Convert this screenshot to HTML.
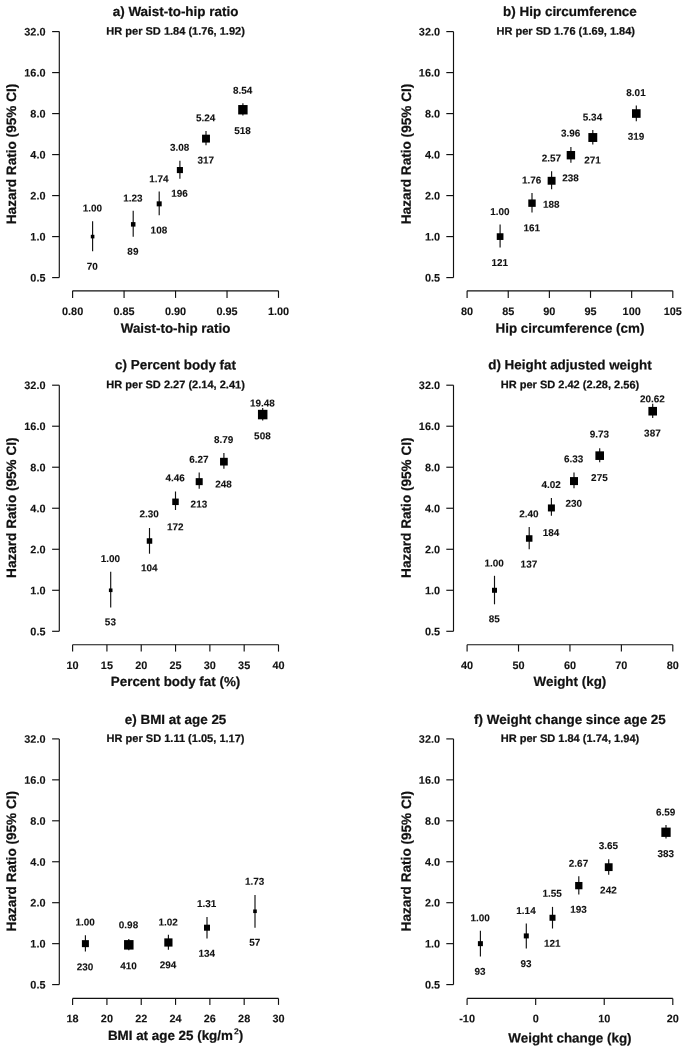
<!DOCTYPE html>
<html><head><meta charset="utf-8"><title>Hazard ratios</title>
<style>
html,body{margin:0;padding:0;background:#fff;}
body{width:685px;height:1049px;overflow:hidden;}
svg{display:block;will-change:transform;opacity:0.999;font-family:"Liberation Sans",sans-serif;font-weight:bold;fill:#111;}
svg text{text-rendering:geometricPrecision;stroke:#111;stroke-width:0.22px;stroke-linejoin:round;}
svg text.s{stroke-width:0.1px;}
svg path{stroke:#111;stroke-width:1.15;fill:none;}
svg rect{fill:#000;stroke:none;}
</style></head><body>
<svg width="685" height="1049" viewBox="0 0 685 1049">
<rect x="0" y="0" width="685" height="1049" style="fill:#fff"/>
<text transform="translate(175.55 16.02) rotate(0.03)" font-size="13.45" text-anchor="middle">a) Waist-to-hip ratio</text>
<text transform="translate(175.55 34.75) rotate(0.03)" font-size="11.04" text-anchor="middle">HR per SD 1.84 (1.76, 1.92)</text>
<path d="M59.30 31.60V277.60" />
<path d="M52.10 31.60H59.30" />
<text transform="translate(45.50 35.50) rotate(0.03)" font-size="10.9" text-anchor="end" class="s">32.0</text>
<path d="M52.10 72.60H59.30" />
<text transform="translate(45.50 76.50) rotate(0.03)" font-size="10.9" text-anchor="end" class="s">16.0</text>
<path d="M52.10 113.60H59.30" />
<text transform="translate(45.50 117.50) rotate(0.03)" font-size="10.9" text-anchor="end" class="s">8.0</text>
<path d="M52.10 154.60H59.30" />
<text transform="translate(45.50 158.50) rotate(0.03)" font-size="10.9" text-anchor="end" class="s">4.0</text>
<path d="M52.10 195.60H59.30" />
<text transform="translate(45.50 199.50) rotate(0.03)" font-size="10.9" text-anchor="end" class="s">2.0</text>
<path d="M52.10 236.60H59.30" />
<text transform="translate(45.50 240.50) rotate(0.03)" font-size="10.9" text-anchor="end" class="s">1.0</text>
<path d="M52.10 277.60H59.30" />
<text transform="translate(45.50 281.50) rotate(0.03)" font-size="10.9" text-anchor="end" class="s">0.5</text>
<text transform="translate(15.97 154.00) rotate(-89.97)" font-size="13.6" text-anchor="middle">Hazard Ratio (95% CI)</text>
<path d="M72.60 290.80H278.50" />
<path d="M72.60 290.80V297.90" />
<text transform="translate(72.60 315.10) rotate(0.03)" font-size="10.9" text-anchor="middle" class="s">0.80</text>
<path d="M124.07 290.80V297.90" />
<text transform="translate(124.07 315.10) rotate(0.03)" font-size="10.9" text-anchor="middle" class="s">0.85</text>
<path d="M175.55 290.80V297.90" />
<text transform="translate(175.55 315.10) rotate(0.03)" font-size="10.9" text-anchor="middle" class="s">0.90</text>
<path d="M227.03 290.80V297.90" />
<text transform="translate(227.03 315.10) rotate(0.03)" font-size="10.9" text-anchor="middle" class="s">0.95</text>
<path d="M278.50 290.80V297.90" />
<text transform="translate(278.50 315.10) rotate(0.03)" font-size="10.9" text-anchor="middle" class="s">1.00</text>
<text transform="translate(175.55 332.80) rotate(0.03)" font-size="13.4" text-anchor="middle">Waist-to-hip ratio</text>
<path d="M92.60 221.30V251.30" stroke-width="1.25"/>
<rect x="90.80" y="234.80" width="3.60" height="3.60" />
<text transform="translate(92.30 211.56) rotate(0.03)" font-size="9.95" text-anchor="middle" class="s">1.00</text>
<text transform="translate(92.30 269.86) rotate(0.03)" font-size="9.95" text-anchor="middle" class="s">70</text>
<path d="M133.20 210.80V236.80" stroke-width="1.25"/>
<rect x="130.95" y="222.11" width="4.50" height="4.50" />
<text transform="translate(132.90 201.46) rotate(0.03)" font-size="9.95" text-anchor="middle" class="s">1.23</text>
<text transform="translate(132.90 254.86) rotate(0.03)" font-size="9.95" text-anchor="middle" class="s">89</text>
<path d="M159.20 191.40V215.30" stroke-width="1.25"/>
<rect x="156.70" y="201.34" width="5.00" height="5.00" />
<text transform="translate(158.90 182.16) rotate(0.03)" font-size="9.95" text-anchor="middle" class="s">1.74</text>
<text transform="translate(158.90 233.56) rotate(0.03)" font-size="9.95" text-anchor="middle" class="s">108</text>
<path d="M179.90 160.70V178.70" stroke-width="1.25"/>
<rect x="176.85" y="167.01" width="6.10" height="6.10" />
<text transform="translate(179.60 150.86) rotate(0.03)" font-size="9.95" text-anchor="middle" class="s">3.08</text>
<text transform="translate(179.60 196.76) rotate(0.03)" font-size="9.95" text-anchor="middle" class="s">196</text>
<path d="M206.00 131.00V145.20" stroke-width="1.25"/>
<rect x="202.05" y="134.68" width="7.90" height="7.90" />
<text transform="translate(205.70 121.36) rotate(0.03)" font-size="9.95" text-anchor="middle" class="s">5.24</text>
<text transform="translate(205.70 163.56) rotate(0.03)" font-size="9.95" text-anchor="middle" class="s">317</text>
<path d="M242.90 103.20V115.50" stroke-width="1.25"/>
<rect x="238.20" y="105.04" width="9.40" height="9.40" />
<text transform="translate(242.60 93.66) rotate(0.03)" font-size="9.95" text-anchor="middle" class="s">8.54</text>
<text transform="translate(242.60 133.96) rotate(0.03)" font-size="9.95" text-anchor="middle" class="s">518</text>
<text transform="translate(569.95 16.02) rotate(0.03)" font-size="13.45" text-anchor="middle">b) Hip circumference</text>
<text transform="translate(565.75 34.75) rotate(0.03)" font-size="11.04" text-anchor="middle">HR per SD 1.76 (1.69, 1.84)</text>
<path d="M453.50 31.60V277.60" />
<path d="M446.30 31.60H453.50" />
<text transform="translate(440.05 35.50) rotate(0.03)" font-size="10.9" text-anchor="end" class="s">32.0</text>
<path d="M446.30 72.60H453.50" />
<text transform="translate(440.05 76.50) rotate(0.03)" font-size="10.9" text-anchor="end" class="s">16.0</text>
<path d="M446.30 113.60H453.50" />
<text transform="translate(440.05 117.50) rotate(0.03)" font-size="10.9" text-anchor="end" class="s">8.0</text>
<path d="M446.30 154.60H453.50" />
<text transform="translate(440.05 158.50) rotate(0.03)" font-size="10.9" text-anchor="end" class="s">4.0</text>
<path d="M446.30 195.60H453.50" />
<text transform="translate(440.05 199.50) rotate(0.03)" font-size="10.9" text-anchor="end" class="s">2.0</text>
<path d="M446.30 236.60H453.50" />
<text transform="translate(440.05 240.50) rotate(0.03)" font-size="10.9" text-anchor="end" class="s">1.0</text>
<path d="M446.30 277.60H453.50" />
<text transform="translate(440.05 281.50) rotate(0.03)" font-size="10.9" text-anchor="end" class="s">0.5</text>
<text transform="translate(410.87 154.00) rotate(-89.97)" font-size="13.6" text-anchor="middle">Hazard Ratio (95% CI)</text>
<path d="M467.10 290.80H672.80" />
<path d="M467.10 290.80V297.90" />
<text transform="translate(467.10 315.10) rotate(0.03)" font-size="10.9" text-anchor="middle" class="s">80</text>
<path d="M508.24 290.80V297.90" />
<text transform="translate(508.24 315.10) rotate(0.03)" font-size="10.9" text-anchor="middle" class="s">85</text>
<path d="M549.38 290.80V297.90" />
<text transform="translate(549.38 315.10) rotate(0.03)" font-size="10.9" text-anchor="middle" class="s">90</text>
<path d="M590.52 290.80V297.90" />
<text transform="translate(590.52 315.10) rotate(0.03)" font-size="10.9" text-anchor="middle" class="s">95</text>
<path d="M631.66 290.80V297.90" />
<text transform="translate(631.66 315.10) rotate(0.03)" font-size="10.9" text-anchor="middle" class="s">100</text>
<path d="M672.80 290.80V297.90" />
<text transform="translate(672.80 315.10) rotate(0.03)" font-size="10.9" text-anchor="middle" class="s">105</text>
<text transform="translate(569.95 332.70) rotate(0.03)" font-size="13.4" text-anchor="middle">Hip circumference (cm)</text>
<path d="M500.10 224.50V247.60" stroke-width="1.25"/>
<rect x="496.75" y="233.25" width="6.70" height="6.70" />
<text transform="translate(499.80 215.06) rotate(0.03)" font-size="9.95" text-anchor="middle" class="s">1.00</text>
<text transform="translate(499.80 265.96) rotate(0.03)" font-size="9.95" text-anchor="middle" class="s">121</text>
<path d="M532.00 193.00V212.60" stroke-width="1.25"/>
<rect x="528.30" y="199.46" width="7.40" height="7.40" />
<text transform="translate(531.70 183.46) rotate(0.03)" font-size="9.95" text-anchor="middle" class="s">1.76</text>
<text transform="translate(531.70 231.16) rotate(0.03)" font-size="9.95" text-anchor="middle" class="s">161</text>
<path d="M551.60 171.20V189.30" stroke-width="1.25"/>
<rect x="547.65" y="176.82" width="7.90" height="7.90" />
<text transform="translate(551.30 161.56) rotate(0.03)" font-size="9.95" text-anchor="middle" class="s">2.57</text>
<text transform="translate(551.30 207.86) rotate(0.03)" font-size="9.95" text-anchor="middle" class="s">188</text>
<path d="M570.90 147.00V162.80" stroke-width="1.25"/>
<rect x="566.70" y="150.99" width="8.40" height="8.40" />
<text transform="translate(570.60 136.56) rotate(0.03)" font-size="9.95" text-anchor="middle" class="s">3.96</text>
<text transform="translate(570.60 181.16) rotate(0.03)" font-size="9.95" text-anchor="middle" class="s">238</text>
<path d="M592.80 130.00V144.40" stroke-width="1.25"/>
<rect x="588.35" y="133.06" width="8.90" height="8.90" />
<text transform="translate(592.50 120.46) rotate(0.03)" font-size="9.95" text-anchor="middle" class="s">5.34</text>
<text transform="translate(592.50 163.46) rotate(0.03)" font-size="9.95" text-anchor="middle" class="s">271</text>
<path d="M636.30 105.50V121.20" stroke-width="1.25"/>
<rect x="632.00" y="109.23" width="8.60" height="8.60" />
<text transform="translate(636.00 95.96) rotate(0.03)" font-size="9.95" text-anchor="middle" class="s">8.01</text>
<text transform="translate(636.00 139.66) rotate(0.03)" font-size="9.95" text-anchor="middle" class="s">319</text>
<text transform="translate(175.55 369.37) rotate(0.03)" font-size="13.45" text-anchor="middle">c) Percent body fat</text>
<text transform="translate(175.55 388.35) rotate(0.03)" font-size="11.04" text-anchor="middle">HR per SD 2.27 (2.14, 2.41)</text>
<path d="M59.30 385.20V631.30" />
<path d="M52.10 385.20H59.30" />
<text transform="translate(45.50 389.10) rotate(0.03)" font-size="10.9" text-anchor="end" class="s">32.0</text>
<path d="M52.10 426.22H59.30" />
<text transform="translate(45.50 430.12) rotate(0.03)" font-size="10.9" text-anchor="end" class="s">16.0</text>
<path d="M52.10 467.23H59.30" />
<text transform="translate(45.50 471.14) rotate(0.03)" font-size="10.9" text-anchor="end" class="s">8.0</text>
<path d="M52.10 508.25H59.30" />
<text transform="translate(45.50 512.15) rotate(0.03)" font-size="10.9" text-anchor="end" class="s">4.0</text>
<path d="M52.10 549.27H59.30" />
<text transform="translate(45.50 553.17) rotate(0.03)" font-size="10.9" text-anchor="end" class="s">2.0</text>
<path d="M52.10 590.28H59.30" />
<text transform="translate(45.50 594.19) rotate(0.03)" font-size="10.9" text-anchor="end" class="s">1.0</text>
<path d="M52.10 631.30H59.30" />
<text transform="translate(45.50 635.20) rotate(0.03)" font-size="10.9" text-anchor="end" class="s">0.5</text>
<text transform="translate(15.97 507.65) rotate(-89.97)" font-size="13.6" text-anchor="middle">Hazard Ratio (95% CI)</text>
<path d="M72.60 644.70H278.50" />
<path d="M72.60 644.70V651.60" />
<text transform="translate(72.60 669.00) rotate(0.03)" font-size="10.9" text-anchor="middle" class="s">10</text>
<path d="M106.92 644.70V651.60" />
<text transform="translate(106.92 669.00) rotate(0.03)" font-size="10.9" text-anchor="middle" class="s">15</text>
<path d="M141.23 644.70V651.60" />
<text transform="translate(141.23 669.00) rotate(0.03)" font-size="10.9" text-anchor="middle" class="s">20</text>
<path d="M175.55 644.70V651.60" />
<text transform="translate(175.55 669.00) rotate(0.03)" font-size="10.9" text-anchor="middle" class="s">25</text>
<path d="M209.87 644.70V651.60" />
<text transform="translate(209.87 669.00) rotate(0.03)" font-size="10.9" text-anchor="middle" class="s">30</text>
<path d="M244.18 644.70V651.60" />
<text transform="translate(244.18 669.00) rotate(0.03)" font-size="10.9" text-anchor="middle" class="s">35</text>
<path d="M278.50 644.70V651.60" />
<text transform="translate(278.50 669.00) rotate(0.03)" font-size="10.9" text-anchor="middle" class="s">40</text>
<text transform="translate(175.55 686.10) rotate(0.03)" font-size="13.4" text-anchor="middle">Percent body fat (%)</text>
<path d="M110.70 571.80V607.50" stroke-width="1.25"/>
<rect x="108.90" y="588.48" width="3.60" height="3.60" />
<text transform="translate(110.40 562.06) rotate(0.03)" font-size="9.95" text-anchor="middle" class="s">1.00</text>
<text transform="translate(110.40 625.36) rotate(0.03)" font-size="9.95" text-anchor="middle" class="s">53</text>
<path d="M149.50 528.00V553.70" stroke-width="1.25"/>
<rect x="146.75" y="538.25" width="5.50" height="5.50" />
<text transform="translate(149.20 517.36) rotate(0.03)" font-size="9.95" text-anchor="middle" class="s">2.30</text>
<text transform="translate(149.20 571.16) rotate(0.03)" font-size="9.95" text-anchor="middle" class="s">104</text>
<path d="M175.50 491.50V510.00" stroke-width="1.25"/>
<rect x="172.25" y="498.56" width="6.50" height="6.50" />
<text transform="translate(175.20 481.36) rotate(0.03)" font-size="9.95" text-anchor="middle" class="s">4.46</text>
<text transform="translate(175.20 530.16) rotate(0.03)" font-size="9.95" text-anchor="middle" class="s">172</text>
<path d="M199.20 472.50V488.80" stroke-width="1.25"/>
<rect x="195.70" y="478.15" width="7.00" height="7.00" />
<text transform="translate(198.90 462.86) rotate(0.03)" font-size="9.95" text-anchor="middle" class="s">6.27</text>
<text transform="translate(198.90 507.56) rotate(0.03)" font-size="9.95" text-anchor="middle" class="s">213</text>
<path d="M223.90 453.00V468.80" stroke-width="1.25"/>
<rect x="220.05" y="457.81" width="7.70" height="7.70" />
<text transform="translate(223.60 443.06) rotate(0.03)" font-size="9.95" text-anchor="middle" class="s">8.79</text>
<text transform="translate(223.60 487.56) rotate(0.03)" font-size="9.95" text-anchor="middle" class="s">248</text>
<path d="M262.70 408.00V420.50" stroke-width="1.25"/>
<rect x="257.95" y="409.82" width="9.50" height="9.50" />
<text transform="translate(262.40 406.56) rotate(0.03)" font-size="9.95" text-anchor="middle" class="s">19.48</text>
<text transform="translate(262.40 439.36) rotate(0.03)" font-size="9.95" text-anchor="middle" class="s">508</text>
<text transform="translate(569.95 369.37) rotate(0.03)" font-size="13.45" text-anchor="middle">d) Height adjusted weight</text>
<text transform="translate(569.95 388.35) rotate(0.03)" font-size="11.04" text-anchor="middle">HR per SD 2.42 (2.28, 2.56)</text>
<path d="M453.50 385.20V631.30" />
<path d="M446.30 385.20H453.50" />
<text transform="translate(440.05 389.10) rotate(0.03)" font-size="10.9" text-anchor="end" class="s">32.0</text>
<path d="M446.30 426.22H453.50" />
<text transform="translate(440.05 430.12) rotate(0.03)" font-size="10.9" text-anchor="end" class="s">16.0</text>
<path d="M446.30 467.23H453.50" />
<text transform="translate(440.05 471.14) rotate(0.03)" font-size="10.9" text-anchor="end" class="s">8.0</text>
<path d="M446.30 508.25H453.50" />
<text transform="translate(440.05 512.15) rotate(0.03)" font-size="10.9" text-anchor="end" class="s">4.0</text>
<path d="M446.30 549.27H453.50" />
<text transform="translate(440.05 553.17) rotate(0.03)" font-size="10.9" text-anchor="end" class="s">2.0</text>
<path d="M446.30 590.28H453.50" />
<text transform="translate(440.05 594.19) rotate(0.03)" font-size="10.9" text-anchor="end" class="s">1.0</text>
<path d="M446.30 631.30H453.50" />
<text transform="translate(440.05 635.20) rotate(0.03)" font-size="10.9" text-anchor="end" class="s">0.5</text>
<text transform="translate(410.87 507.65) rotate(-89.97)" font-size="13.6" text-anchor="middle">Hazard Ratio (95% CI)</text>
<path d="M467.10 644.70H672.80" />
<path d="M467.10 644.70V651.60" />
<text transform="translate(467.10 669.00) rotate(0.03)" font-size="10.9" text-anchor="middle" class="s">40</text>
<path d="M518.52 644.70V651.60" />
<text transform="translate(518.52 669.00) rotate(0.03)" font-size="10.9" text-anchor="middle" class="s">50</text>
<path d="M569.95 644.70V651.60" />
<text transform="translate(569.95 669.00) rotate(0.03)" font-size="10.9" text-anchor="middle" class="s">60</text>
<path d="M621.38 644.70V651.60" />
<text transform="translate(621.38 669.00) rotate(0.03)" font-size="10.9" text-anchor="middle" class="s">70</text>
<path d="M672.80 644.70V651.60" />
<text transform="translate(672.80 669.00) rotate(0.03)" font-size="10.9" text-anchor="middle" class="s">80</text>
<text transform="translate(569.95 686.10) rotate(0.03)" font-size="13.4" text-anchor="middle">Weight (kg)</text>
<path d="M494.50 575.80V604.30" stroke-width="1.25"/>
<rect x="492.00" y="587.78" width="5.00" height="5.00" />
<text transform="translate(494.20 566.56) rotate(0.03)" font-size="9.95" text-anchor="middle" class="s">1.00</text>
<text transform="translate(494.20 622.36) rotate(0.03)" font-size="9.95" text-anchor="middle" class="s">85</text>
<path d="M529.20 527.00V549.30" stroke-width="1.25"/>
<rect x="525.95" y="535.23" width="6.50" height="6.50" />
<text transform="translate(528.90 517.36) rotate(0.03)" font-size="9.95" text-anchor="middle" class="s">2.40</text>
<text transform="translate(528.90 567.56) rotate(0.03)" font-size="9.95" text-anchor="middle" class="s">137</text>
<path d="M551.40 498.00V515.80" stroke-width="1.25"/>
<rect x="547.90" y="504.45" width="7.00" height="7.00" />
<text transform="translate(551.10 488.06) rotate(0.03)" font-size="9.95" text-anchor="middle" class="s">4.02</text>
<text transform="translate(551.10 536.06) rotate(0.03)" font-size="9.95" text-anchor="middle" class="s">184</text>
<path d="M574.00 472.50V488.30" stroke-width="1.25"/>
<rect x="570.00" y="477.09" width="8.00" height="8.00" />
<text transform="translate(573.70 462.36) rotate(0.03)" font-size="9.95" text-anchor="middle" class="s">6.33</text>
<text transform="translate(573.70 506.86) rotate(0.03)" font-size="9.95" text-anchor="middle" class="s">230</text>
<path d="M599.70 448.30V462.30" stroke-width="1.25"/>
<rect x="595.40" y="451.35" width="8.60" height="8.60" />
<text transform="translate(599.40 437.56) rotate(0.03)" font-size="9.95" text-anchor="middle" class="s">9.73</text>
<text transform="translate(599.40 481.06) rotate(0.03)" font-size="9.95" text-anchor="middle" class="s">275</text>
<path d="M652.70 403.80V418.00" stroke-width="1.25"/>
<rect x="648.40" y="406.91" width="8.60" height="8.60" />
<text transform="translate(652.40 402.36) rotate(0.03)" font-size="9.95" text-anchor="middle" class="s">20.62</text>
<text transform="translate(652.40 436.56) rotate(0.03)" font-size="9.95" text-anchor="middle" class="s">387</text>
<text transform="translate(175.55 723.97) rotate(0.03)" font-size="13.45" text-anchor="middle">e) BMI at age 25</text>
<text transform="translate(175.55 742.10) rotate(0.03)" font-size="11.04" text-anchor="middle">HR per SD 1.11 (1.05, 1.17)</text>
<path d="M59.30 738.90V984.60" />
<path d="M52.10 738.90H59.30" />
<text transform="translate(45.50 742.80) rotate(0.03)" font-size="10.9" text-anchor="end" class="s">32.0</text>
<path d="M52.10 779.85H59.30" />
<text transform="translate(45.50 783.75) rotate(0.03)" font-size="10.9" text-anchor="end" class="s">16.0</text>
<path d="M52.10 820.80H59.30" />
<text transform="translate(45.50 824.70) rotate(0.03)" font-size="10.9" text-anchor="end" class="s">8.0</text>
<path d="M52.10 861.75H59.30" />
<text transform="translate(45.50 865.65) rotate(0.03)" font-size="10.9" text-anchor="end" class="s">4.0</text>
<path d="M52.10 902.70H59.30" />
<text transform="translate(45.50 906.60) rotate(0.03)" font-size="10.9" text-anchor="end" class="s">2.0</text>
<path d="M52.10 943.65H59.30" />
<text transform="translate(45.50 947.55) rotate(0.03)" font-size="10.9" text-anchor="end" class="s">1.0</text>
<path d="M52.10 984.60H59.30" />
<text transform="translate(45.50 988.50) rotate(0.03)" font-size="10.9" text-anchor="end" class="s">0.5</text>
<text transform="translate(15.97 861.15) rotate(-89.97)" font-size="13.6" text-anchor="middle">Hazard Ratio (95% CI)</text>
<path d="M72.60 998.40H278.50" />
<path d="M72.60 998.40V1004.90" />
<text transform="translate(72.60 1022.30) rotate(0.03)" font-size="10.9" text-anchor="middle" class="s">18</text>
<path d="M106.92 998.40V1004.90" />
<text transform="translate(106.92 1022.30) rotate(0.03)" font-size="10.9" text-anchor="middle" class="s">20</text>
<path d="M141.23 998.40V1004.90" />
<text transform="translate(141.23 1022.30) rotate(0.03)" font-size="10.9" text-anchor="middle" class="s">22</text>
<path d="M175.55 998.40V1004.90" />
<text transform="translate(175.55 1022.30) rotate(0.03)" font-size="10.9" text-anchor="middle" class="s">24</text>
<path d="M209.87 998.40V1004.90" />
<text transform="translate(209.87 1022.30) rotate(0.03)" font-size="10.9" text-anchor="middle" class="s">26</text>
<path d="M244.18 998.40V1004.90" />
<text transform="translate(244.18 1022.30) rotate(0.03)" font-size="10.9" text-anchor="middle" class="s">28</text>
<path d="M278.50 998.40V1004.90" />
<text transform="translate(278.50 1022.30) rotate(0.03)" font-size="10.9" text-anchor="middle" class="s">30</text>
<text transform="translate(175.55 1040.00) rotate(0.03)" font-size="13.4" text-anchor="middle">BMI at age 25 (kg/m<tspan font-size="8.7" dx="1.1" dy="-5.9" style="stroke-width:0.05px">2</tspan><tspan dy="5.9" dx="-0.1">)</tspan></text>
<path d="M85.40 935.30V951.60" stroke-width="1.25"/>
<rect x="81.90" y="940.15" width="7.00" height="7.00" />
<text transform="translate(85.10 925.56) rotate(0.03)" font-size="9.95" text-anchor="middle" class="s">1.00</text>
<text transform="translate(85.10 970.16) rotate(0.03)" font-size="9.95" text-anchor="middle" class="s">230</text>
<path d="M128.80 939.00V950.30" stroke-width="1.25"/>
<rect x="124.05" y="940.09" width="9.50" height="9.50" />
<text transform="translate(128.50 928.26) rotate(0.03)" font-size="9.95" text-anchor="middle" class="s">0.98</text>
<text transform="translate(128.50 969.16) rotate(0.03)" font-size="9.95" text-anchor="middle" class="s">410</text>
<path d="M168.40 934.80V949.80" stroke-width="1.25"/>
<rect x="164.30" y="938.38" width="8.20" height="8.20" />
<text transform="translate(168.10 925.56) rotate(0.03)" font-size="9.95" text-anchor="middle" class="s">1.02</text>
<text transform="translate(168.10 968.16) rotate(0.03)" font-size="9.95" text-anchor="middle" class="s">294</text>
<path d="M207.00 917.00V938.50" stroke-width="1.25"/>
<rect x="204.00" y="924.70" width="6.00" height="6.00" />
<text transform="translate(206.70 906.96) rotate(0.03)" font-size="9.95" text-anchor="middle" class="s">1.31</text>
<text transform="translate(206.70 956.86) rotate(0.03)" font-size="9.95" text-anchor="middle" class="s">134</text>
<path d="M255.00 895.10V927.70" stroke-width="1.25"/>
<rect x="253.20" y="909.47" width="3.60" height="3.60" />
<text transform="translate(254.70 884.86) rotate(0.03)" font-size="9.95" text-anchor="middle" class="s">1.73</text>
<text transform="translate(254.70 945.86) rotate(0.03)" font-size="9.95" text-anchor="middle" class="s">57</text>
<text transform="translate(569.95 723.97) rotate(0.03)" font-size="13.45" text-anchor="middle">f) Weight change since age 25</text>
<text transform="translate(569.95 742.10) rotate(0.03)" font-size="11.04" text-anchor="middle">HR per SD 1.84 (1.74, 1.94)</text>
<path d="M453.50 738.90V984.60" />
<path d="M446.30 738.90H453.50" />
<text transform="translate(440.05 742.80) rotate(0.03)" font-size="10.9" text-anchor="end" class="s">32.0</text>
<path d="M446.30 779.85H453.50" />
<text transform="translate(440.05 783.75) rotate(0.03)" font-size="10.9" text-anchor="end" class="s">16.0</text>
<path d="M446.30 820.80H453.50" />
<text transform="translate(440.05 824.70) rotate(0.03)" font-size="10.9" text-anchor="end" class="s">8.0</text>
<path d="M446.30 861.75H453.50" />
<text transform="translate(440.05 865.65) rotate(0.03)" font-size="10.9" text-anchor="end" class="s">4.0</text>
<path d="M446.30 902.70H453.50" />
<text transform="translate(440.05 906.60) rotate(0.03)" font-size="10.9" text-anchor="end" class="s">2.0</text>
<path d="M446.30 943.65H453.50" />
<text transform="translate(440.05 947.55) rotate(0.03)" font-size="10.9" text-anchor="end" class="s">1.0</text>
<path d="M446.30 984.60H453.50" />
<text transform="translate(440.05 988.50) rotate(0.03)" font-size="10.9" text-anchor="end" class="s">0.5</text>
<text transform="translate(410.87 861.15) rotate(-89.97)" font-size="13.6" text-anchor="middle">Hazard Ratio (95% CI)</text>
<path d="M467.10 998.40H672.80" />
<path d="M467.10 998.40V1004.90" />
<text transform="translate(467.10 1022.30) rotate(0.03)" font-size="10.9" text-anchor="middle" class="s">-10</text>
<path d="M535.67 998.40V1004.90" />
<text transform="translate(535.67 1022.30) rotate(0.03)" font-size="10.9" text-anchor="middle" class="s">0</text>
<path d="M604.23 998.40V1004.90" />
<text transform="translate(604.23 1022.30) rotate(0.03)" font-size="10.9" text-anchor="middle" class="s">10</text>
<path d="M672.80 998.40V1004.90" />
<text transform="translate(672.80 1022.30) rotate(0.03)" font-size="10.9" text-anchor="middle" class="s">20</text>
<text transform="translate(569.95 1042.60) rotate(0.03)" font-size="13.4" text-anchor="middle">Weight change (kg)</text>
<path d="M480.40 930.70V956.60" stroke-width="1.25"/>
<rect x="477.90" y="941.15" width="5.00" height="5.00" />
<text transform="translate(480.10 921.26) rotate(0.03)" font-size="9.95" text-anchor="middle" class="s">1.00</text>
<text transform="translate(480.10 974.76) rotate(0.03)" font-size="9.95" text-anchor="middle" class="s">93</text>
<path d="M526.30 923.50V948.60" stroke-width="1.25"/>
<rect x="523.80" y="933.41" width="5.00" height="5.00" />
<text transform="translate(526.00 913.96) rotate(0.03)" font-size="9.95" text-anchor="middle" class="s">1.14</text>
<text transform="translate(526.00 966.96) rotate(0.03)" font-size="9.95" text-anchor="middle" class="s">93</text>
<path d="M552.50 906.90V928.50" stroke-width="1.25"/>
<rect x="549.50" y="914.76" width="6.00" height="6.00" />
<text transform="translate(552.20 896.76) rotate(0.03)" font-size="9.95" text-anchor="middle" class="s">1.55</text>
<text transform="translate(552.20 946.86) rotate(0.03)" font-size="9.95" text-anchor="middle" class="s">121</text>
<path d="M578.80 876.20V894.50" stroke-width="1.25"/>
<rect x="575.15" y="881.98" width="7.30" height="7.30" />
<text transform="translate(578.50 866.76) rotate(0.03)" font-size="9.95" text-anchor="middle" class="s">2.67</text>
<text transform="translate(578.50 912.76) rotate(0.03)" font-size="9.95" text-anchor="middle" class="s">193</text>
<path d="M608.70 859.20V874.80" stroke-width="1.25"/>
<rect x="604.80" y="863.26" width="7.80" height="7.80" />
<text transform="translate(608.40 849.06) rotate(0.03)" font-size="9.95" text-anchor="middle" class="s">3.65</text>
<text transform="translate(608.40 893.46) rotate(0.03)" font-size="9.95" text-anchor="middle" class="s">242</text>
<path d="M666.00 825.00V838.60" stroke-width="1.25"/>
<rect x="661.35" y="827.60" width="9.30" height="9.30" />
<text transform="translate(665.70 815.56) rotate(0.03)" font-size="9.95" text-anchor="middle" class="s">6.59</text>
<text transform="translate(665.70 856.96) rotate(0.03)" font-size="9.95" text-anchor="middle" class="s">383</text>
</svg>
</body></html>
